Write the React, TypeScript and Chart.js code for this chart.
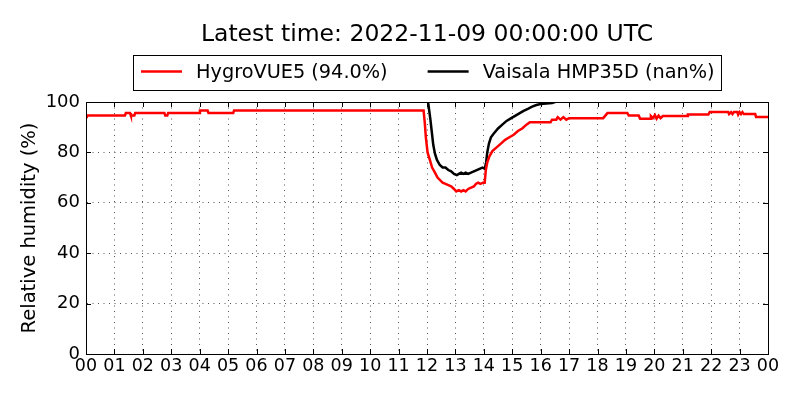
import React, { useEffect, useRef } from "react";
import { Chart, registerables } from "chart.js";

Chart.register(...registerables);

const titleText = "Latest time: 2022-11-09 00:00:00 UTC";
const yAxisTitle = "Relative humidity (%)";
const seriesNames = ["HygroVUE5 (94.0%)", "Vaisala HMP35D (nan%)"];
const seriesColors = ["#ff0000", "#000000"];

const hourTicks = [0, 1, 2, 3, 4, 5, 6, 7, 8, 9, 10, 11, 12, 13, 14, 15, 16, 17, 18, 19, 20, 21, 22, 23, 24];
const hourLabels = ["00", "01", "02", "03", "04", "05", "06", "07", "08", "09", "10", "11", "12", "13", "14", "15", "16", "17", "18", "19", "20", "21", "22", "23", "00"];
const yTicks = [0, 20, 40, 60, 80, 100];

const hygroHours = [
  0.0, 0.03, 1.37, 1.4, 1.55, 1.58, 1.7, 1.73, 2.76, 2.79, 2.86, 2.89, 3.98, 4.01, 4.28, 4.31, 5.18, 5.21,
  11.88, 11.92, 11.96, 12.02, 12.1, 12.18, 12.28, 12.37, 12.46, 12.55, 12.65, 12.75, 12.85, 12.95, 13.03,
  13.12, 13.2, 13.28, 13.36, 13.45, 13.55, 13.65, 13.72, 13.8, 13.88, 13.97, 14.03, 14.07, 14.12, 14.2,
  14.3, 14.45, 14.6, 14.75, 14.9, 15.05, 15.2, 15.35, 15.5, 15.62, 16.35, 16.4, 16.55, 16.6, 16.7, 16.8,
  16.9, 17.0, 18.2, 18.35, 19.05, 19.1, 19.45, 19.5, 19.85, 19.88, 19.95, 20.02, 20.08, 20.15, 20.22,
  20.3, 21.15, 21.18, 21.9, 21.95, 22.6, 22.63, 22.7, 22.75, 22.8, 22.92, 22.95, 23.0, 23.05, 23.1,
  23.15, 23.55, 23.58, 24.0,
];
const hygroValues = [
  94.0, 94.6, 94.6, 95.6, 95.6, 94.6, 94.6, 95.6, 95.6, 94.6, 94.6, 95.6, 95.6, 96.6, 96.6, 95.6, 95.6, 96.6,
  96.6, 92, 86, 80, 77, 74, 72, 70, 69, 68, 67.5, 67, 66.5, 65.5, 64.5,
  65, 64.5, 65, 64.5, 65.5, 66, 66.5, 67.5, 68, 67.5, 68, 68, 73, 76, 78.5,
  80.5, 82, 83.5, 85, 86, 87, 88.5, 89.5, 91, 92, 92, 93, 93, 94, 93, 94,
  93, 93.6, 93.6, 95.6, 95.6, 94.6, 94.6, 93.4, 93.4, 94.4, 93.6, 94.8, 93.4, 94.6, 93.6,
  94.4, 94.4, 95.0, 95.0, 96.0, 96.0, 95.2, 96.0, 95.2, 96.0, 96.0, 95.0, 96.0, 95.2, 96.0,
  95.2, 95.2, 94.0, 94.0,
];

const vaisalaHours = [
  11.97, 12.05, 12.12, 12.17, 12.22, 12.28, 12.35, 12.45, 12.55, 12.65, 12.75, 12.85, 12.95, 13.05, 13.12,
  13.2, 13.28, 13.36, 13.45, 13.55, 13.65, 13.75, 13.85, 13.95, 14.03, 14.08, 14.12, 14.18, 14.25, 14.35,
  14.5, 14.65, 14.8, 14.95, 15.1, 15.25, 15.4, 15.55, 15.7, 15.85, 16.0, 16.2, 16.4, 16.55, 16.7,
];
const vaisalaValues = [
  104, 99, 93, 88, 83, 79.5, 77, 75, 74, 74, 73, 72.5, 71.5, 71, 71.5,
  72, 71.5, 72, 71.5, 72, 72.5, 73, 73.5, 74, 73.5, 76, 80, 83.5, 86, 87.5,
  89.5, 91, 92.5, 93.5, 94.5, 95.5, 96.5, 97.3, 98.2, 98.8, 99.2, 99.4, 99.6, 100.2, 101,
];

const FONT = "DejaVu Sans";

const decorPlugin = {
  id: "decor",
  afterDatasetsDraw(chart: any) {
    const { ctx, chartArea, scales } = chart;
    const { left, right, top, bottom } = chartArea;
    const xs = scales.x;
    const ys = scales.y;
    ctx.save();
    ctx.strokeStyle = "#000";
    ctx.lineWidth = 1;
    ctx.setLineDash([]);
    const tl = 5;
    ctx.beginPath();
    hourTicks.forEach((v) => {
      const px = Math.round(xs.getPixelForValue(v)) + 0.5;
      ctx.moveTo(px, bottom);
      ctx.lineTo(px, bottom - tl);
      ctx.moveTo(px, top);
      ctx.lineTo(px, top + tl);
    });
    yTicks.forEach((v) => {
      const py = Math.round(ys.getPixelForValue(v)) + 0.5;
      ctx.moveTo(left, py);
      ctx.lineTo(left + tl, py);
      ctx.moveTo(right, py);
      ctx.lineTo(right - tl, py);
    });
    ctx.stroke();
    ctx.strokeRect(Math.round(left) + 0.5, Math.round(top) + 0.5, Math.round(right - left), Math.round(bottom - top));
    ctx.restore();
  },
  afterDraw(chart: any) {
    const { ctx, chartArea } = chart;
    const { left, right, top, bottom } = chartArea;
    const cx = (left + right) / 2;
    ctx.save();
    ctx.fillStyle = "#000";
    // title
    ctx.font = `23.5px "${FONT}"`;
    ctx.textAlign = "center";
    ctx.textBaseline = "middle";
    ctx.fillText(titleText, cx, 35);
    // y axis title
    ctx.save();
    ctx.translate(30, (top + bottom) / 2);
    ctx.rotate(-Math.PI / 2);
    ctx.font = `19.5px "${FONT}"`;
    ctx.fillText(yAxisTitle, 0, 0);
    ctx.restore();
    // legend
    ctx.font = `19.3px "${FONT}"`;
    const w1 = ctx.measureText(seriesNames[0]).width;
    const w2 = ctx.measureText(seriesNames[1]).width;
    const padL = 8, sample = 41, gapST = 14, gapE = 40, padR = 6;
    const total = padL + sample + gapST + w1 + gapE + sample + gapST + w2 + padR;
    const bx = Math.round(cx - total / 2);
    const by = 55;
    const bh = 35;
    ctx.fillStyle = "#fff";
    ctx.fillRect(bx, by, total, bh);
    ctx.strokeStyle = "#000";
    ctx.lineWidth = 1;
    ctx.strokeRect(bx + 0.5, by + 0.5, Math.round(total), bh);
    const ly = by + 16.5;
    let x = bx + padL;
    [0, 1].forEach((i) => {
      ctx.strokeStyle = seriesColors[i];
      ctx.lineWidth = 2.5;
      ctx.beginPath();
      ctx.moveTo(x, ly);
      ctx.lineTo(x + sample, ly);
      ctx.stroke();
      x += sample + gapST;
      ctx.fillStyle = "#000";
      ctx.textAlign = "left";
      ctx.textBaseline = "middle";
      ctx.fillText(seriesNames[i], x, ly + 1);
      x += (i === 0 ? w1 : w2) + gapE;
    });
    ctx.restore();
  },
};

export default function App() {
  const ref = useRef<HTMLCanvasElement>(null);
  useEffect(() => {
    document.body.style.margin = "0";
    const canvas = ref.current!;
    const chart = new Chart(canvas, {
      type: "line",
      data: {
        datasets: [
          {
            label: seriesNames[0],
            data: hygroHours.map((h, i) => ({ x: h, y: hygroValues[i] })),
            borderColor: seriesColors[0],
            borderWidth: 2.5,
            pointRadius: 0,
            tension: 0,
            fill: false,
          },
          {
            label: seriesNames[1],
            data: vaisalaHours.map((h, i) => ({ x: h, y: vaisalaValues[i] })),
            borderColor: seriesColors[1],
            borderWidth: 2.5,
            pointRadius: 0,
            tension: 0,
            fill: false,
          },
        ],
      },
      options: {
        responsive: false,
        animation: false,
        devicePixelRatio: 1,
        layout: { padding: { top: 102, right: 32, left: 0, bottom: 0 } },
        plugins: {
          legend: { display: false },
          title: { display: false },
          tooltip: { enabled: false },
        },
        scales: {
          x: {
            type: "linear",
            min: 0,
            max: 24,
            afterBuildTicks: (s: any) => {
              s.ticks = hourTicks.map((v) => ({ value: v }));
            },
            afterFit: (s: any) => {
              s.height = 46;
            },
            ticks: {
              autoSkip: false,
              maxRotation: 0,
              minRotation: 0,
              padding: 2,
              color: "#000",
              font: { family: FONT, size: 17.5 },
              callback: (v: any) => hourLabels[hourTicks.indexOf(Number(v))],
            },
            grid: { color: "#555", lineWidth: 1, drawTicks: false },
            border: { display: true, color: "#000", width: 1, dash: [1, 4.5] },
          },
          y: {
            min: 0,
            max: 100,
            afterBuildTicks: (s: any) => {
              s.ticks = yTicks.map((v) => ({ value: v }));
            },
            afterFit: (s: any) => {
              s.width = 86;
            },
            ticks: {
              padding: 6,
              color: "#000",
              font: { family: FONT, size: 18 },
            },
            grid: { color: "#555", lineWidth: 1, drawTicks: false },
            border: { display: true, color: "#000", width: 1, dash: [1, 4.5] },
          },
        },
      },
      plugins: [decorPlugin],
    });
    return () => chart.destroy();
  }, []);
  return (
    <div style={{ position: "fixed", left: 0, top: 0, width: 800, height: 400, background: "#fff" }}>
      <canvas ref={ref} width={800} height={400} />
    </div>
  );
}
